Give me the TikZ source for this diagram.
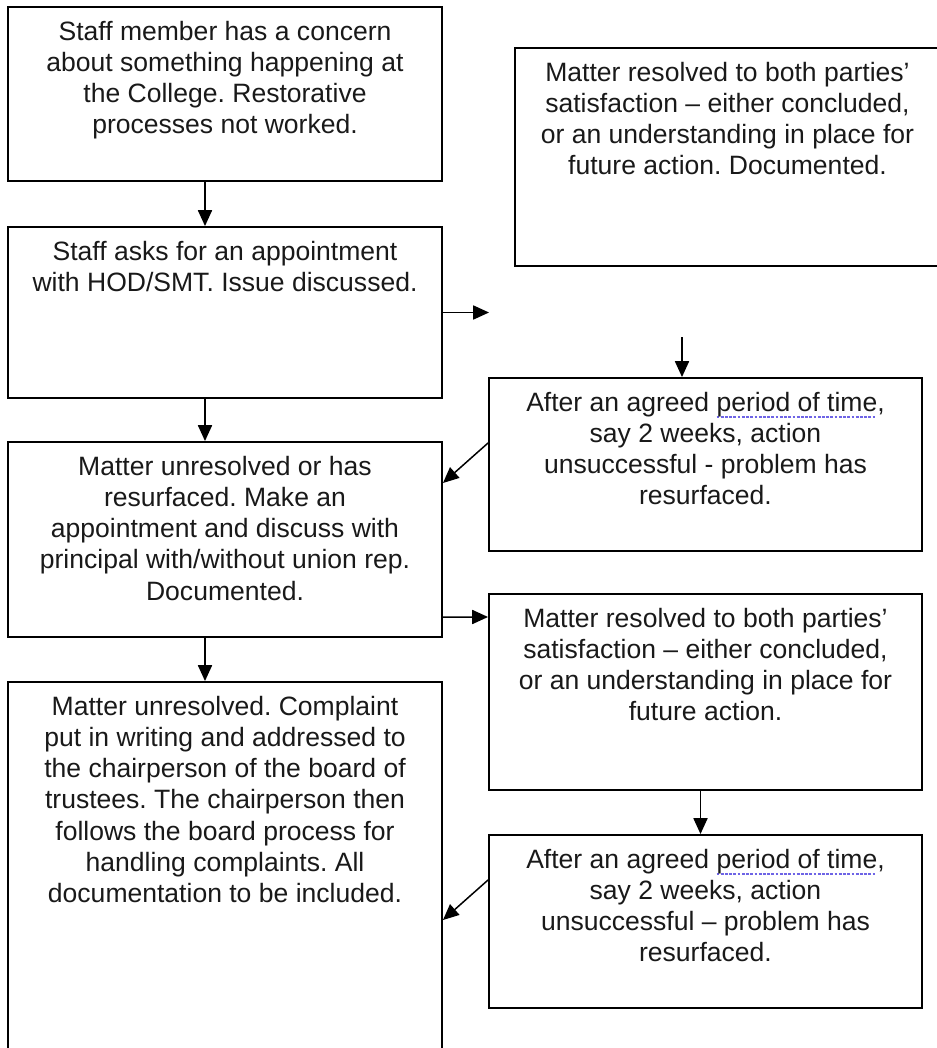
\documentclass[tikz,border=0pt]{standalone}
\usepackage{fontspec}
\setmainfont{Liberation Sans}
\usetikzlibrary{arrows.meta}

\definecolor{spellblu}{RGB}{110,100,230}
% sottolineatura del correttore ortografico
\newcommand\sottolinea[1]{\setbox0\hbox{#1}\rlap{\raisebox{-0.45ex}{\color{spellblu}\leaders\hbox to 2.4pt{\rule{1.6pt}{0.9pt}\hfil}\hskip\wd0}}\box0}
\frenchspacing

\begin{document}
\begin{tikzpicture}
	% Stili per riquadri, testi e frecce
	\tikzset{
		riquadro/.style={rectangle, draw, line width=1.1pt, inner sep=0pt, minimum width=8.68cm},
		testo/.style={anchor=north, align=center, inner sep=0pt, yshift=-0.30cm,
			font=\fontsize{15.1}{17.7}\selectfont, text=black!90},
		freccia/.style={line width=0.85pt, -{Triangle[length=9pt, width=8pt]}}
	}
	\useasboundingbox (0,0) rectangle (18.74,-20.96);

	% Colonna di sinistra
	\node[riquadro, minimum height=3.48cm, label={[testo]north:Staff member has a concern\\about something happening at\\the College. Restorative\\processes not worked.}] (staff) at (4.5,-1.88) {};
	\node[riquadro, minimum height=3.42cm, label={[testo]north:Staff asks for an appointment\\with HOD/SMT. Issue discussed.}] (hod) at (4.5,-6.25) {};
	\node[riquadro, minimum height=3.90cm, label={[testo]north:Matter unresolved or has\\resurfaced. Make an\\appointment and discuss with\\principal with/without union rep.\\Documented.}] (principal) at (4.5,-10.79) {};
	\node[riquadro, minimum height=7.76cm, label={[testo]north:Matter unresolved. Complaint\\put in writing and addressed to\\the chairperson of the board of\\trustees. The chairperson then\\follows the board process for\\handling complaints. All\\documentation to be included.}] (board) at (4.5,-17.52) {};

	% Colonna di destra
	\node[riquadro, minimum width=8.5cm, minimum height=4.36cm, label={[testo]north:Matter resolved to both parties'\\satisfaction -- either concluded,\\or an understanding in place for\\future action. Documented.}] (risolto1) at (14.55,-3.14) {};
	\node[riquadro, minimum width=8.66cm, minimum height=3.46cm, label={[testo]north:After an agreed \sottolinea{period of time},\\say 2 weeks, action\\unsuccessful - problem has\\resurfaced.}] (attesa1) at (14.11,-9.29) {};
	\node[riquadro, minimum width=8.66cm, minimum height=3.92cm, label={[testo]north:Matter resolved to both parties'\\satisfaction -- either concluded,\\or an understanding in place for\\future action.}] (risolto2) at (14.11,-13.84) {};
	\node[riquadro, minimum width=8.66cm, minimum height=3.46cm, label={[testo]north:After an agreed \sottolinea{period of time},\\say 2 weeks, action\\unsuccessful -- problem has\\resurfaced.}] (attesa2) at (14.11,-18.43) {};

	% Estremi liberi
	\coordinate (vuoto) at (9.78,-6.25);
	\coordinate (sopra) at (13.64,-6.74);

	% Frecce
	\draw[freccia] ([xshift=-0.4cm]staff.south) -- ([xshift=-0.4cm]hod.north);
	\draw[freccia] (hod.east) -- (vuoto);
	\draw[freccia] (sopra) -- (sopra |- attesa1.north);
	\draw[freccia] ([yshift=0.43cm]attesa1.west) -- ([yshift=1.13cm]principal.east);
	\draw[freccia] ([xshift=-0.4cm]hod.south) -- ([xshift=-0.4cm]principal.north);
	\draw[freccia] ([yshift=-1.55cm]principal.east) -- ([yshift=1.50cm]risolto2.west);
	\draw[freccia] ([xshift=-0.4cm]principal.south) -- ([xshift=-0.4cm]board.north);
	\draw[freccia] ([xshift=-0.1cm]risolto2.south) -- ([xshift=-0.1cm]attesa2.north);
	\draw[freccia] ([yshift=0.83cm]attesa2.west) -- ([yshift=-0.88cm]board.east);
\end{tikzpicture}
\end{document}
